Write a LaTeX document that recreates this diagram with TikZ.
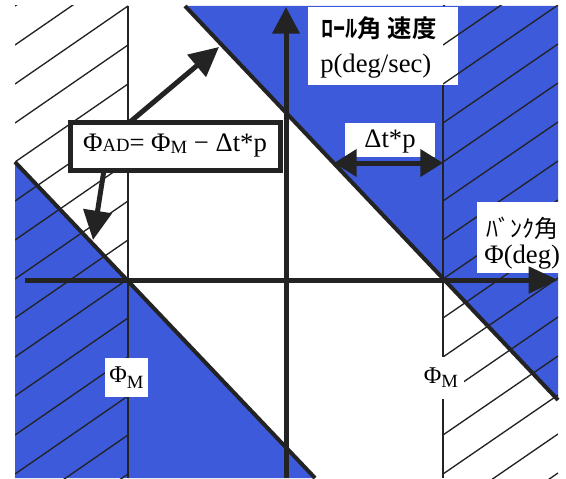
\documentclass[tikz,border=0pt]{standalone}
\usepackage{fontspec}
\setmainfont{Liberation Serif}
\newfontfamily\jp{Noto Sans CJK JP}
\newfontfamily\jpb{Noto Sans CJK JP Bold}
\usetikzlibrary{arrows.meta}
\definecolor{fillblue}{RGB}{60,90,218}
\definecolor{ink}{RGB}{35,35,35}
\begin{document}
\begin{tikzpicture}[x=0.75pt,y=-0.75pt,
  axisline/.style={draw=ink,line width=3.75pt},
  diagline/.style={draw=ink,line width=3pt},
  limline/.style={draw=ink,line width=1.1pt},
  hatchline/.style={draw=ink,line width=1pt},
  whitebox/.style={fill=white,inner sep=0pt,outer sep=0pt},
  serif20/.style={font=\fontsize{20}{22}\selectfont},
  serif18/.style={font=\fontsize{18}{20}\selectfont},
  fatarrow/.style={draw=ink,line width=3.75pt,-{Triangle[length=22pt,width=21pt]}},
  dblarrow/.style={draw=ink,line width=3.75pt,{Triangle[length=17pt,width=20pt]}-{Triangle[length=17pt,width=20pt]}}
]
\useasboundingbox (0,0) rectangle (566,478);
\fill[white] (0,0) rectangle (566,478);
\begin{scope}
\clip (0,0) rectangle (566,478);
% blue regions
\fill[fillblue] (185,6) -- (558,6) -- (558,400) -- cycle;
\fill[fillblue] (15,162) -- (315,478) -- (15,478) -- cycle;
% label box for roll rate
\node[whitebox,minimum width=112.5pt,minimum height=58.5pt] (rollbox) at (382.5,46) {};
% hatching left
\begin{scope}
\clip (15,6) rectangle (128,478);
\foreach \k in {0,...,14} {
  \draw[hatchline] (15,{6+39*\k}) -- (128,{6+39*\k-78});
}
\end{scope}
% hatching right
\begin{scope}
\clip (443,6) rectangle (558,478);
\foreach \k in {0,...,14} {
  \draw[hatchline] (443,{6+39*\k}) -- (558,{6+39*\k-79});
}
\end{scope}
% limit lines
\coordinate (llt) at (128,6);
\coordinate (llb) at (128,478);
\coordinate (rlt) at (443,85);
\coordinate (rlb) at (443,478);
\draw[limline] (llt) -- (llb);
\draw[limline] (rlt) -- (rlb);
% diagonals
\coordinate (d1a) at (185,6);
\coordinate (d1b) at (558,400);
\coordinate (d2a) at (15,162);
\coordinate (d2b) at (315,478);
\draw[diagline] (d1a) -- (d1b);
\draw[diagline] (d2a) -- (d2b);
% axes
\coordinate (vbot) at (286,478);
\coordinate (vtop) at (286,7);
\coordinate (hleft) at (25,280);
\coordinate (hright) at (558,280);
\draw[axisline,-{Triangle[length=20pt,width=20pt]}] (vbot) -- (vtop);
\end{scope}
% labels
\node[anchor=west,inner sep=0pt,font=\jpb\fontsize{18.3}{20}\selectfont] (rolltxt) at (321,28) {ﾛｰﾙ角 速度};
\node[anchor=west,inner sep=0pt,serif20] (rollunit) at (320,66) {p(deg/sec)};
\node[whitebox,minimum width=62.25pt,minimum height=53.25pt] (bankbox) at (518.5,237.5) {};
\node[anchor=west,inner sep=0pt,font=\jp\fontsize{18}{20}\selectfont] (banktxt) at (486,228) {ﾊﾞﾝｸ角};
\node[anchor=west,inner sep=0pt,serif20] (bankunit) at (484,257) {Φ(deg)};
\draw[axisline,-{Triangle[length=22pt,width=19.5pt]}] (hleft) -- (hright);
% delta box
\node[whitebox,minimum width=67.5pt,minimum height=25.5pt] (dbox) at (390,140) {};
\node[inner sep=0pt,serif20] (dtxt) at (390,142) {Δt*p};
\coordinate (dl) at (334,163);
\coordinate (dr) at (443,163);
\draw[dblarrow] (dl) -- (dr);
% phi_M labels
\node[whitebox,minimum width=32pt,minimum height=29pt,serif18] (phiL) at (126.5,377.5) {Φ\raisebox{-4pt}{\fontsize{14}{14}\selectfont M}};
\node[whitebox,minimum width=35pt,minimum height=31pt,serif18] (phiR) at (441,378) {Φ\raisebox{-3pt}{\fontsize{14}{14}\selectfont M}};
% formula box and arrows
\coordinate (a1s) at (130,122);
\coordinate (a1e) at (219,47);
\coordinate (a2s) at (104,170);
\coordinate (a2e) at (93,240);
\draw[fatarrow] (a1s) -- (a1e);
\draw[fatarrow] (a2s) -- (a2e);
\node[draw=ink,line width=3.75pt,fill=white,minimum width=157.5pt,minimum height=36pt,inner sep=0pt,serif20] (adbox) at (175,146)
  {Φ{\fontsize{14}{14}\selectfont AD}= Φ\raisebox{-1.5pt}{\fontsize{14}{14}\selectfont M} − Δt*p};
\end{tikzpicture}
\end{document}
